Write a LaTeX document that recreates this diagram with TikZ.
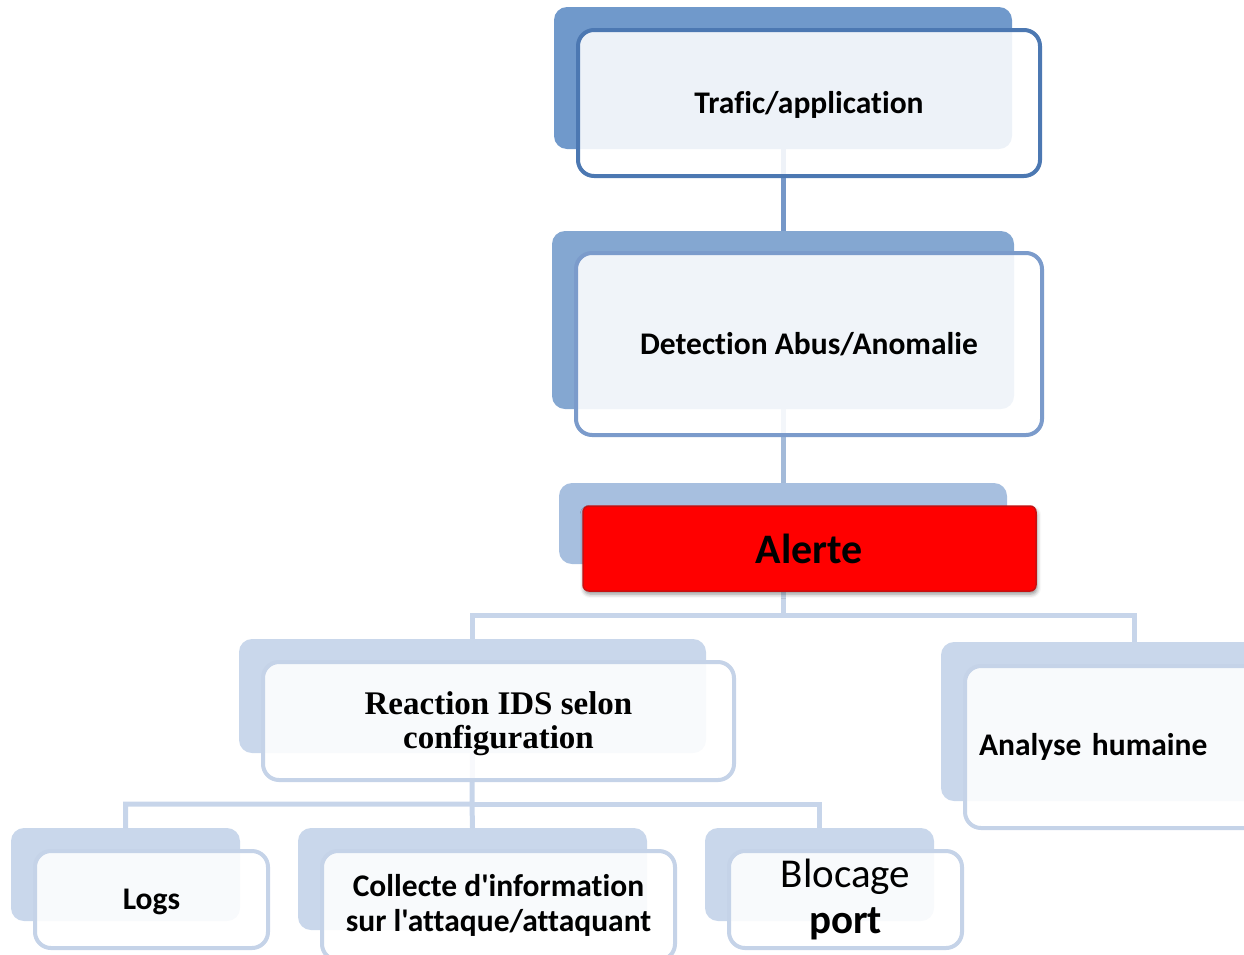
\documentclass[tikz,border=0pt]{standalone}
\usepackage{fontspec}
\setmainfont{Carlito}[Ligatures={TeXOff,CommonOff}]
\newfontfamily\serifbold{Liberation Serif}
\usetikzlibrary{shadows.blur}

\definecolor{bgA}{HTML}{7099CB}
\definecolor{bgB}{HTML}{84A7D1}
\definecolor{bgC}{HTML}{A7BFDF}
\definecolor{bgD}{HTML}{C9D7EB}
\definecolor{edgeA}{HTML}{4C78B2}
\definecolor{edgeB}{HTML}{7B9BCB}
\definecolor{edgeD}{HTML}{C5D3E8}
\definecolor{linkA}{HTML}{7597C8}
\definecolor{linkB}{HTML}{A3BAD9}
\definecolor{linkD}{HTML}{C7D5EA}
\definecolor{alertred}{HTML}{FF0000}
\definecolor{alertedge}{HTML}{C81010}

% lower a line of text without changing its box
\newcommand{\drop}[2]{\raisebox{-#1}[\height][\depth]{#2}}

\begin{document}
\begin{tikzpicture}[x=1pt,y=-1pt,
  backbox/.style={rounded corners=13pt, inner sep=0pt, outer sep=0pt,
    anchor=north west, draw=none},
  frontbox/.style={rounded corners=16pt, line width=4pt, fill=white,
    fill opacity=0.88, text opacity=1, inner sep=0pt, outer sep=0pt,
    anchor=north west, align=center, font=\fontsize{31.5}{35}\selectfont\bfseries},
  link/.style={line width=5pt},
]
\clip (0,0) rectangle (1244,954);

% coloured back panels
\node[backbox, fill=bgA, minimum width=458pt, minimum height=142pt] (B1) at (554,7) {};
\node[backbox, fill=bgB, minimum width=462pt, minimum height=178pt] (B2) at (552,231) {};
\node[backbox, fill=bgC, minimum width=448pt, minimum height=81pt]  (B3) at (559,483) {};
\node[backbox, fill=bgD, minimum width=467pt, minimum height=114pt] (B3L) at (239,639) {};
\node[backbox, fill=bgD, minimum width=386pt, minimum height=159pt] (B3R) at (941,642) {};
\node[backbox, fill=bgD, minimum width=229pt, minimum height=93pt]  (B4a) at (11,828) {};
\node[backbox, fill=bgD, minimum width=349pt, minimum height=102pt] (B4b) at (298,828) {};
\node[backbox, fill=bgD, minimum width=229pt, minimum height=93pt]  (B4c) at (705,828) {};

% connectors of the tree
\coordinate (j1) at (783,615);
\coordinate (j2) at (472,804);
\draw[link, linkA] (B1.south) -- (B2.north);
\draw[link, linkB] (B2.south) -- (B3.north);
\draw[link, linkD] (B3.south) -- (j1) -| (B3L.north);
\draw[link, linkD] (j1) -| (B3R.north);
\draw[link, linkD] (B3L.south) -- (j2) -| (B4a.north);
\draw[link, linkD] (j2) -- (B4b.north);
\draw[link, linkD] (j2) -| (B4c.north);

% front boxes with the texts
\node[frontbox, draw=edgeA, minimum width=462pt, minimum height=146pt] (F1) at (578,30) {\drop{2pt}{Trafic/application}};
\node[frontbox, draw=edgeB, minimum width=466pt, minimum height=182pt] (F2) at (576,253) {Detection Abus/Anomalie};
\node[anchor=north west, inner sep=0pt, outer sep=0pt, rounded corners=6pt,
  fill=alertred, draw=alertedge, line width=1.5pt,
  blur shadow={shadow xshift=1pt, shadow yshift=-3pt, shadow blur radius=4pt, shadow opacity=45},
  minimum width=453pt, minimum height=85pt,
  font=\fontsize{42}{48}\selectfont\bfseries] (F3) at (583,506) {Alerte};
\node[frontbox, draw=edgeD, minimum width=471pt, minimum height=118pt,
  font=\fontsize{33}{34}\selectfont\serifbold\bfseries] (F3L) at (263,662) {\drop{3pt}{Reaction IDS selon}\\\drop{3pt}{configuration}};
\node[frontbox, draw=edgeD, minimum width=380pt, minimum height=162pt,
  text width=352pt, inner xsep=14pt, align=left] (F3R) at (965,666) {Analyse humaine};
\node[frontbox, draw=edgeD, minimum width=233pt, minimum height=97pt] (F4a) at (35,851) {\drop{2pt}{Logs}};
\node[frontbox, draw=edgeD, minimum width=353pt, minimum height=109pt] (F4b) at (322,851) {Collecte d'information\\sur l'attaque/attaquant};
\node[frontbox, draw=edgeD, minimum width=233pt, minimum height=97pt,
  font=\fontsize{41}{46}\selectfont] (F4c) at (729,851) {Blocage\\\textbf{port}};
\end{tikzpicture}
\end{document}
